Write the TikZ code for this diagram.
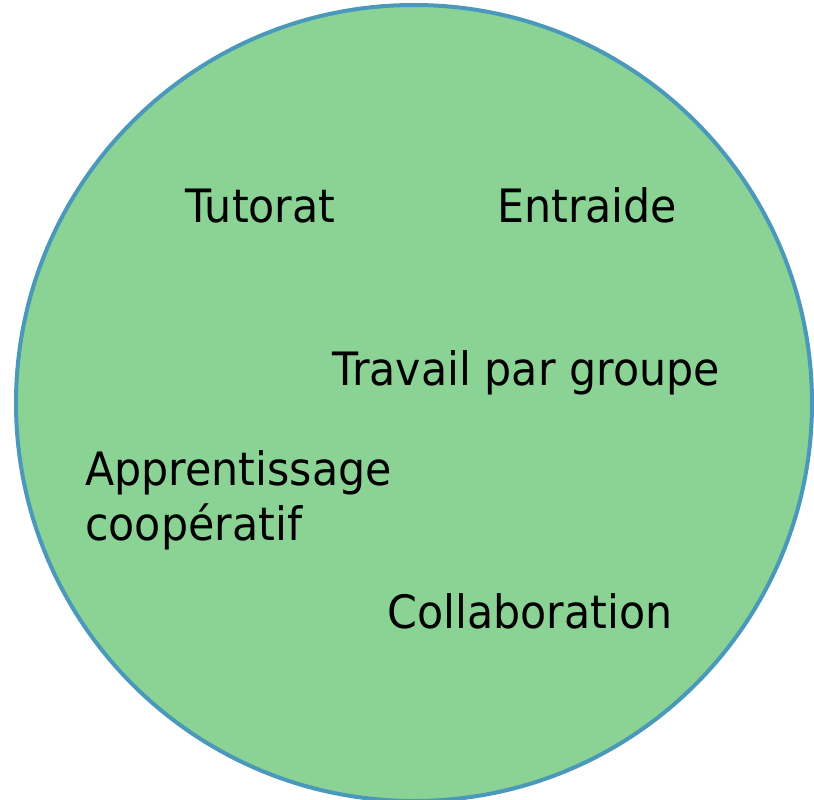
\documentclass[tikz,border=0pt]{standalone}
\usepackage{fontspec}
\setmainfont[FakeStretch=0.93]{DejaVu Sans}
\definecolor{vert}{RGB}{139,211,149}
\definecolor{bord}{RGB}{74,152,186}

\begin{document}
\begin{tikzpicture}[
    x=1pt, y=-1pt,
    bignode/.style={circle, draw=bord, fill=vert, line width=4pt, minimum size=796pt, inner sep=0pt},
    wordnode/.style={anchor=base west, inner sep=0pt, align=left, font=\fontsize{46}{55}\selectfont}
]
\useasboundingbox (0,0) rectangle (814,800);

% Circle
\node[bignode]   (cercle)     at (414,403) {};

% Words
\node[wordnode]  (tutorat)    at (185,222) {Tutorat};
\node[wordnode]  (entraide)   at (497,222) {Entraide};
\node[wordnode]  (travail)    at (332,385) {Travail par groupe};
\node[wordnode]  (apprent)    at (85,540)  {Apprentissage\\coopératif};
\node[wordnode]  (collab)     at (387,628) {Collaboration};

\end{tikzpicture}
\end{document}
